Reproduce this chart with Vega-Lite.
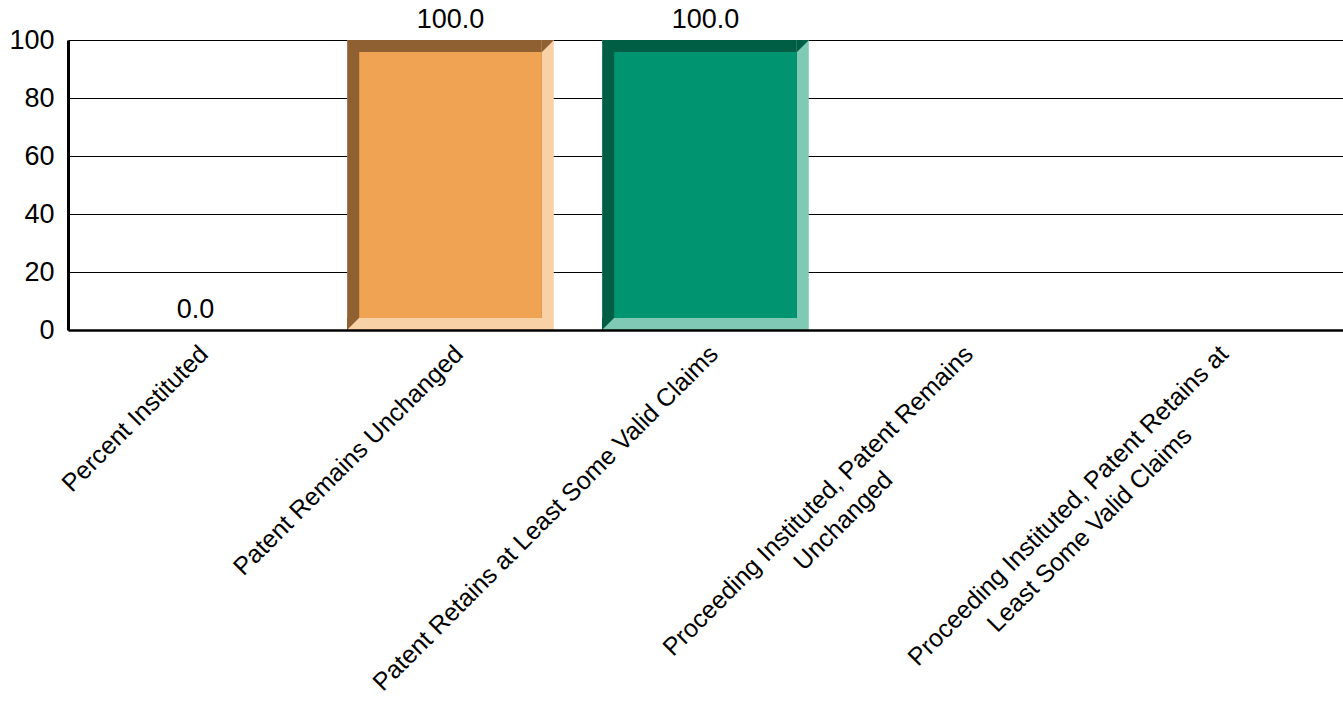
{
  "$schema": "https://vega.github.io/schema/vega-lite/v6.json",
  "width": 1275,
  "height": 290,
  "autosize": "none",
  "padding": {"left": 68, "top": 40, "right": 0, "bottom": 372},
  "background": "white",
  "config": {
    "view": {"stroke": null},
    "font": "Liberation Sans",
    "axis": {"labelFont": "Liberation Sans", "labelColor": "black"}
  },
  "data": {
    "values": [
      {"category": "Percent Instituted", "value": 0},
      {"category": "Patent Remains Unchanged", "value": 100},
      {"category": "Patent Retains at Least Some Valid Claims", "value": 100},
      {"category": "Proceeding Instituted, Patent Remains Unchanged", "value": null},
      {"category": "Proceeding Instituted, Patent Retains at Least Some Valid Claims", "value": null}
    ]
  },
  "encoding": {
    "x": {
      "field": "category",
      "type": "nominal",
      "sort": null,
      "scale": {
        "domain": ["Percent Instituted", "Patent Remains Unchanged", "Patent Retains at Least Some Valid Claims", "Proceeding Instituted, Patent Remains Unchanged", "Proceeding Instituted, Patent Retains at Least Some Valid Claims"],
        "paddingInner": 0.19,
        "paddingOuter": 0.095
      },
      "axis": {
        "title": null,
        "zindex": 1,
        "domainColor": "black",
        "domainWidth": 2.5,
        "ticks": false,
        "grid": false,
        "labelAngle": -45,
        "labelAlign": "right",
        "labelBaseline": "top",
        "labelPadding": 11,
        "labelFontSize": 25,
        "labelLineHeight": 32,
        "labelLimit": 0,
        "labelExpr": "datum.value == 'Proceeding Instituted, Patent Remains Unchanged' ? ['Proceeding Instituted, Patent Remains', 'Unchanged\u00a0\u00a0\u00a0\u00a0\u00a0\u00a0\u00a0\u00a0\u00a0\u00a0\u00a0\u00a0\u00a0\u00a0\u00a0\u00a0\u00a0\u00a0\u00a0\u00a0\u00a0\u200b'] : datum.value == 'Proceeding Instituted, Patent Retains at Least Some Valid Claims' ? ['Proceeding Instituted, Patent Retains at', 'Least Some Valid Claims\u00a0\u00a0\u00a0\u00a0\u00a0\u00a0\u00a0\u00a0\u00a0\u00a0\u00a0\u00a0\u200b'] : datum.label"
      }
    }
  },
  "layer": [
    {
      "transform": [{"filter": "datum.value > 0"}],
      "mark": {"type": "bar"},
      "encoding": {
        "y": {
          "field": "value",
          "type": "quantitative",
          "stack": null,
          "scale": {"domain": [0, 100], "nice": false},
          "axis": {
            "title": null,
            "values": [0, 20, 40, 60, 80, 100],
            "zindex": 0,
            "domainColor": "black",
            "domainWidth": 3,
            "ticks": false,
            "grid": true,
            "gridColor": "black",
            "gridWidth": 1,
            "gridOpacity": 1,
            "labelFontSize": 27,
            "labelPadding": 14
          }
        },
        "y2": {"datum": 0},
        "color": {
          "field": "category",
          "type": "nominal",
          "legend": null,
          "scale": {
            "domain": ["Patent Remains Unchanged", "Patent Retains at Least Some Valid Claims"],
            "range": ["#F8D2A6", "#80CAB5"]
          }
        }
      }
    },
    {
      "transform": [{"filter": "datum.value > 0"}],
      "mark": {"type": "bar", "width": {"band": 0.942}, "xOffset": -6, "y2Offset": -12},
      "encoding": {
        "y": {"field": "value", "type": "quantitative", "stack": null},
        "y2": {"datum": 0},
        "color": {
          "field": "category",
          "type": "nominal",
          "legend": null,
          "scale": {
            "domain": ["Patent Remains Unchanged", "Patent Retains at Least Some Valid Claims"],
            "range": ["#8F6032", "#005E45"]
          }
        }
      }
    },
    {
      "transform": [{"filter": "datum.value > 0"}],
      "mark": {"type": "point", "shape": "M-1,-1L1,-1L-1,1Z", "size": 144, "filled": true, "opacity": 1, "strokeWidth": 0, "xOffset": 97.5, "yOffset": 6},
      "encoding": {
        "y": {"field": "value", "type": "quantitative"},
        "color": {
          "field": "category",
          "type": "nominal",
          "legend": null,
          "scale": {
            "domain": ["Patent Remains Unchanged", "Patent Retains at Least Some Valid Claims"],
            "range": ["#8F6032", "#005E45"]
          }
        }
      }
    },
    {
      "transform": [{"filter": "datum.value > 0"}],
      "mark": {"type": "point", "shape": "M-1,-1L1,-1L-1,1Z", "size": 144, "filled": true, "opacity": 1, "strokeWidth": 0, "xOffset": -97.5, "yOffset": -6},
      "encoding": {
        "y": {"datum": 0, "type": "quantitative"},
        "color": {
          "field": "category",
          "type": "nominal",
          "legend": null,
          "scale": {
            "domain": ["Patent Remains Unchanged", "Patent Retains at Least Some Valid Claims"],
            "range": ["#8F6032", "#005E45"]
          }
        }
      }
    },
    {
      "transform": [{"filter": "datum.value > 0"}],
      "mark": {"type": "bar", "width": {"band": 0.884}, "yOffset": 12, "y2Offset": -12},
      "encoding": {
        "y": {"field": "value", "type": "quantitative", "stack": null},
        "y2": {"datum": 0},
        "color": {
          "field": "category",
          "type": "nominal",
          "legend": null,
          "scale": {
            "domain": ["Patent Remains Unchanged", "Patent Retains at Least Some Valid Claims"],
            "range": ["#F0A352", "#009470"]
          }
        }
      }
    },
    {
      "transform": [{"filter": "isValid(datum.value)"}],
      "mark": {"type": "text", "baseline": "alphabetic", "dy": -12, "fontSize": 27, "color": "black"},
      "encoding": {
        "y": {"field": "value", "type": "quantitative"},
        "text": {"field": "value", "type": "quantitative", "format": ".1f"}
      }
    }
  ],
  "resolve": {"scale": {"color": "independent"}}
}
